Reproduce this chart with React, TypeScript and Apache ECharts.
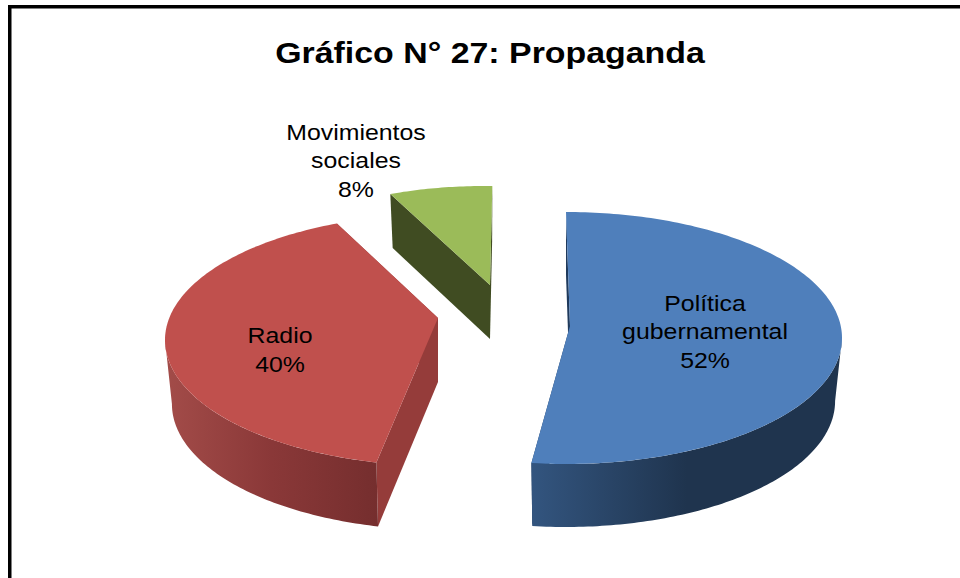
import React, { useEffect, useRef } from "react";
import * as echarts from "echarts";

const titleText = "Gráfico N° 27: Propaganda";
const categories = ["Política\ngubernamental", "Radio", "Movimientos\nsociales"];
const shares = [52, 40, 8];

// Drawing layout of each exploded slice (not data)
const layout = [
  { cx: 566, cy: 338, rx: 276, ry: 126, px: 570, py: 326, depth: 63, turn: 0, top: "#4f7fbb", cut: "#1f3a5c", wall: ["#33557f", "#1f344e", "#1f344e"], lx: 705, ly: 332 },
  { cx: 442, cy: 340, rx: 277, ry: 126, px: 438, py: 318, depth: 64, turn: 6.5, top: "#c0504d", cut: "#953c3a", wall: ["#a34c49", "#8a3838", "#752e2e"], lx: 280, ly: 350 },
  { cx: 485, cy: 261, rx: 210, ry: 75, px: 490, py: 285, depth: 54, turn: 2, top: "#9bbb59", cut: "#404c22", wall: ["#404c22", "#404c22", "#404c22"], lx: 356, ly: 161 },
];
const bottomShrink = 0.975;
const textStretch = 1.13;

function rimPoint(s: any, deg: number): number[] {
  const a = (deg * Math.PI) / 180;
  return [s.cx + s.rx * Math.sin(a), s.cy - s.ry * Math.cos(a)];
}

function rimPoints(s: any, from: number, to: number): number[][] {
  const pts: number[][] = [];
  const n = Math.max(2, Math.ceil(Math.abs(to - from)));
  for (let i = 0; i <= n; i++) pts.push(rimPoint(s, from + ((to - from) * i) / n));
  return pts;
}

export default function App() {
  const ref = useRef<HTMLDivElement>(null);
  useEffect(() => {
    document.body.style.margin = "0";
    const chart = echarts.init(ref.current!, undefined, { renderer: "svg" });
    const total = shares.reduce((a, b) => a + b, 0);
    const starts: number[] = [];
    shares.reduce((acc, v, i) => {
      starts[i] = acc;
      return acc + (v / total) * 360;
    }, 0);

    const renderItem = (_: any, api: any) => {
      const i = api.value(0);
      const value = api.value(1);
      const s = layout[i];
      const from = starts[i] + s.turn;
      const to = from + (value / total) * 360;
      const rim = rimPoints(s, from, to);
      const children: any[] = [];
      const lower = (p: number[]) => [s.cx + (p[0] - s.cx) * bottomShrink, p[1] + s.depth];

      // straight cut walls, extruded below the top face
      [rim[0], rim[rim.length - 1]].forEach((p) => {
        children.push({
          type: "polygon",
          shape: { points: [p, [s.px, s.py], [s.px, s.py + s.depth], lower(p)] },
          style: { fill: s.cut },
        });
      });

      // outer wall: the part of the rim on the viewer's side
      const a = Math.max(from, 90);
      const b = Math.min(to, 270);
      if (b > a) {
        const front = rimPoints(s, a, b);
        const pts = front.concat(front.map(lower).reverse());
        children.push({
          type: "polygon",
          shape: { points: pts },
          style: {
            fill: new echarts.graphic.LinearGradient(0, 0, 1, 0, [
              { offset: 0, color: s.wall[0] },
              { offset: 0.5, color: s.wall[1] },
              { offset: 1, color: s.wall[2] },
            ]),
          },
        });
      }

      // top face
      children.push({
        type: "polygon",
        shape: { points: [[s.px, s.py], ...rim] },
        style: { fill: s.top },
      });

      // label
      children.push({
        type: "text",
        x: s.lx,
        y: s.ly,
        scaleX: textStretch,
        style: {
          x: 0,
          y: 0,
          text: `${categories[i]}\n${value}%`,
          fill: "#000",
          font: '22px "Liberation Sans"',
          lineHeight: 29,
          align: "center",
          verticalAlign: "middle",
        },
      });
      return { type: "group", children };
    };

    chart.setOption({
      animation: false,
      backgroundColor: "#fff",
      graphic: [
        {
          type: "rect",
          shape: { x: 9.75, y: 6.75, width: 980, height: 600 },
          style: { fill: "none", stroke: "#000", lineWidth: 3.5 },
          silent: true,
        },
        {
          type: "text",
          x: 490,
          y: 53,
          scaleX: textStretch,
          style: {
            x: 0,
            y: 0,
            text: titleText,
            fill: "#000",
            font: 'bold 30px "Liberation Sans"',
            align: "center",
            verticalAlign: "middle",
          },
          silent: true,
        },
      ],
      series: [
        {
          type: "custom",
          coordinateSystem: "none",
          renderItem,
          data: shares.map((v, i) => [i, v]),
          silent: true,
        },
      ],
    });
    return () => chart.dispose();
  }, []);
  return <div ref={ref} style={{ position: "absolute", left: 0, top: 0, width: 960, height: 578 }} />;
}
